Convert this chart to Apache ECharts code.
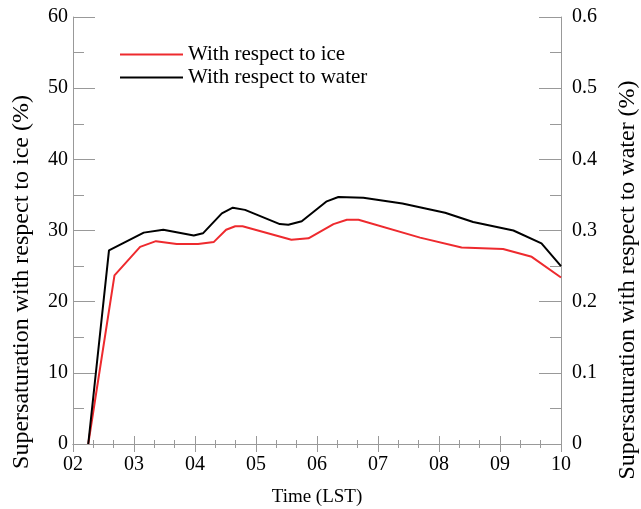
<!DOCTYPE html>
<html>
<head>
<meta charset="utf-8">
<script src="https://cdn.jsdelivr.net/npm/echarts@6/dist/echarts.min.js"></script>
<style>
  html, body { margin: 0; padding: 0; background: #fff; }
  #container { width: 641px; height: 509px; }
</style>
</head>
<body>
<div id="container"></div>
<script>
// time in hours (LST)
var iceTimes = [2.25, 2.68, 3.10, 3.36, 3.70, 4.05, 4.31, 4.51, 4.66, 4.78, 5.58, 5.86, 6.27, 6.49, 6.68, 7.69, 8.37, 9.05, 9.52, 10];
var iceValues = [0, 23.7, 27.7, 28.5, 28.1, 28.1, 28.4, 30.1, 30.6, 30.6, 28.7, 28.9, 30.9, 31.5, 31.5, 29.0, 27.6, 27.4, 26.3, 23.4];

var waterTimes = [2.25, 2.59, 3.16, 3.48, 3.98, 4.13, 4.44, 4.62, 4.82, 5.39, 5.53, 5.75, 6.16, 6.35, 6.76, 7.40, 8.10, 8.56, 9.22, 9.68, 10];
var waterValues = [0, 0.272, 0.297, 0.301, 0.293, 0.296, 0.324, 0.332, 0.329, 0.309, 0.308, 0.313, 0.341, 0.347, 0.346, 0.338, 0.325, 0.312, 0.300, 0.282, 0.250];

var xTickLabels = ['02', '03', '04', '05', '06', '07', '08', '09', '10'];

function pairs(xs, ys) {
  return xs.map(function (x, i) { return [x, ys[i]]; });
}

var font = 'Liberation Serif';
var axisGray = '#999';

// shared tick style for the two x axes (bottom + mirrored top)
function xAxisBase(extra) {
  var a = {
    type: 'value',
    min: 2, max: 10, interval: 1,
    axisLine: { show: true, lineStyle: { color: axisGray } },
    axisTick: { inside: true, length: 8, lineStyle: { color: axisGray } },
    minorTick: { show: true, splitNumber: 3, length: 4, lineStyle: { color: axisGray } },
    splitLine: { show: false }
  };
  for (var k in extra) a[k] = extra[k];
  return a;
}

var chart = echarts.init(document.getElementById('container'));
chart.setOption({
  animation: false,
  textStyle: { fontFamily: font },
  grid: { left: 73, right: 80, top: 17, bottom: 65, outerBoundsMode: 'none' },
  legend: {
    orient: 'vertical',
    left: 115,
    top: 39,
    itemWidth: 63,
    itemHeight: 2,
    itemGap: 2,
    icon: 'rect',
    textStyle: { fontFamily: font, fontSize: 21, lineHeight: 21, color: '#000' },
    data: ['With respect to ice', 'With respect to water']
  },
  graphic: [{
    type: 'text',
    x: 22, y: 282,
    rotation: Math.PI / 2,
    style: {
      text: 'Supersaturation with respect to ice (%)',
      font: '24px "Liberation Serif"',
      fill: '#000', align: 'center', verticalAlign: 'middle'
    }
  }, {
    type: 'text',
    x: 628, y: 280,
    rotation: Math.PI / 2,
    style: {
      text: 'Supersaturation with respect to water (%)',
      font: '24px "Liberation Serif"',
      fill: '#000', align: 'center', verticalAlign: 'middle'
    }
  }],
  xAxis: [xAxisBase({
    name: 'Time (LST)',
    nameLocation: 'middle',
    nameGap: 44,
    nameTextStyle: { fontFamily: font, fontSize: 19, color: '#000' },
    axisLabel: {
      fontFamily: font, fontSize: 20, color: '#000', margin: 11,
      formatter: function (v) { return xTickLabels[Math.round(v) - 2]; }
    }
  }), xAxisBase({
    position: 'top',
    axisLabel: { show: false }
  })],
  yAxis: [{
    type: 'value',
    min: 0, max: 60, interval: 10,
    axisLine: { show: true, lineStyle: { color: axisGray } },
    axisTick: { inside: true, length: 22, lineStyle: { color: axisGray } },
    minorTick: { show: true, splitNumber: 2, length: 11, lineStyle: { color: axisGray } },
    splitLine: { show: false },
    axisLabel: { fontFamily: font, fontSize: 20, color: '#000', margin: 5 }
  }, {
    type: 'value',
    position: 'right',
    min: 0, max: 0.6, interval: 0.1,
    axisLine: { show: true, lineStyle: { color: axisGray } },
    axisTick: { inside: true, length: 22, lineStyle: { color: axisGray } },
    minorTick: { show: true, splitNumber: 2, length: 11, lineStyle: { color: axisGray } },
    splitLine: { show: false },
    axisLabel: { fontFamily: font, fontSize: 20, color: '#000', margin: 11 }
  }],
  series: [{
    name: 'With respect to ice',
    type: 'line',
    xAxisIndex: 0,
    yAxisIndex: 0,
    symbol: 'none',
    color: '#ee2a2e',
    lineStyle: { width: 2, color: '#ee2a2e' },
    data: pairs(iceTimes, iceValues)
  }, {
    name: 'With respect to water',
    type: 'line',
    xAxisIndex: 0,
    yAxisIndex: 1,
    symbol: 'none',
    color: '#000',
    lineStyle: { width: 2, color: '#000' },
    data: pairs(waterTimes, waterValues)
  }]
});
</script>
</body>
</html>
